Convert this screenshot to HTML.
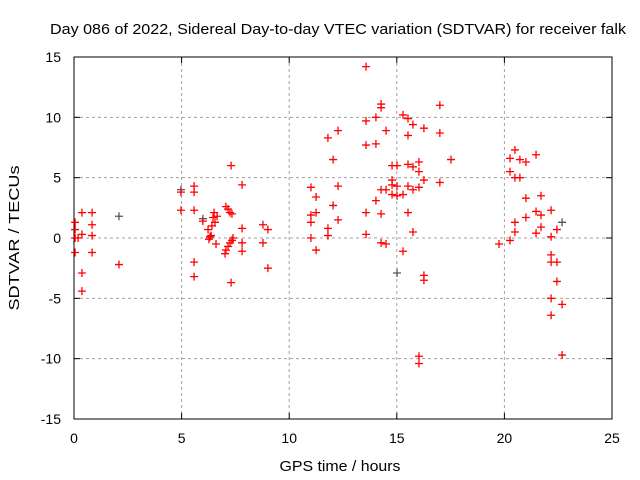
<!DOCTYPE html>
<html><head><meta charset="utf-8"><style>
body{margin:0;background:#fff}
svg{display:block;font-family:"Liberation Sans",sans-serif}
</style></head><body>
<svg id="chart" width="640" height="480" viewBox="0 0 640 480">
<text x="338" y="34" font-size="15" text-anchor="middle" textLength="576" lengthAdjust="spacingAndGlyphs">Day 086 of 2022, Sidereal Day-to-day VTEC variation (SDTVAR) for receiver falk</text>
<text transform="translate(19,238) rotate(-90)" font-size="15" text-anchor="middle" textLength="145" lengthAdjust="spacingAndGlyphs">SDTVAR / TECUs</text>
<text x="340" y="471" font-size="15" text-anchor="middle" textLength="121" lengthAdjust="spacingAndGlyphs">GPS time / hours</text>
<g id="grid"></g><g id="axes"></g><g id="pts"></g>
</svg>
<script>
const xTicks=[0,5,10,15,20,25];
const yTicks=[-15,-10,-5,0,5,10,15];
const redH=[0.05,0.05,0.05,0.05,0.37,0.37,0.37,0.37,0.19,0.84,0.84,0.84,0.84,2.09,
4.97,4.97,5.58,5.58,5.58,5.58,5.58,5.99,
6.23,6.32,6.41,6.46,6.51,6.55,6.37,6.27,6.6,6.65,
7.06,7.16,7.25,7.34,7.02,7.06,7.16,7.25,7.34,7.39,7.3,7.3,
7.81,7.81,7.81,7.81,8.78,8.78,9.01,9.01,
11.01,11.01,11.01,11.01,11.25,11.25,11.25,11.8,11.8,11.8,12.04,12.04,12.27,12.27,12.27,
13.57,13.57,13.57,13.57,13.57,14.03,14.03,14.03,14.27,14.27,14.27,14.27,14.27,14.5,14.5,14.5,
14.78,14.78,14.78,14.78,15.01,15.01,15.01,15.29,15.29,15.29,
15.52,15.52,15.52,15.52,15.52,15.75,15.75,15.75,15.75,16.03,16.03,16.03,16.03,16.03,
16.26,16.26,16.26,16.26,17.0,17.0,17.0,17.52,
19.75,20.26,20.26,20.26,20.49,20.49,20.49,20.49,20.72,20.72,21.0,21.0,21.0,21.47,21.47,21.47,
21.7,21.7,21.7,22.17,22.17,22.17,22.17,22.17,22.17,22.44,22.44,22.44,22.68,22.68];
const redV=[0.7,1.3,0,-1.2,2.1,0.3,-2.9,-4.4,0,2.1,1.1,0.2,-1.2,-2.2,
3.8,2.3,4.3,3.8,-2.0,-3.2,2.3,1.4,
0.7,0.1,1.0,1.7,2.1,1.3,0.2,-0.1,-0.5,1.8,
2.6,2.4,2.1,2.0,-1.3,-1.0,-0.7,-0.4,-0.2,0,-3.7,6.0,
4.4,0.8,-0.4,-1.1,1.1,-0.4,0.7,-2.5,
4.2,1.9,1.3,0,3.4,2.1,-1.0,8.3,0.8,0.2,6.5,2.7,8.9,4.3,1.5,
14.2,9.7,7.7,2.1,0.3,10,7.8,3.1,11.1,10.8,4.0,2.0,-0.4,8.9,4.0,-0.5,
4.8,4.4,3.6,6.0,6.0,4.3,3.5,10.2,3.6,-1.1,
9.9,8.5,6.1,4.3,2.1,9.4,5.9,0.5,4.0,6.3,5.5,-9.8,-10.4,4.2,
9.1,4.8,-3.1,-3.5,11.0,8.7,4.6,6.5,
-0.5,6.6,5.5,-0.2,7.3,5.0,1.3,0.5,6.5,5.0,6.3,3.3,1.7,6.9,2.2,0.4,
3.5,1.9,0.9,0.1,-1.4,-2.0,-5.0,-6.4,2.3,0.7,-2.0,-3.6,-5.5,-9.7];
const grayH=[4.97,2.09,5.99,22.68,15.01];
const grayV=[4.0,1.8,1.6,1.3,-2.9];
const X0=74,X1=612,Y0=419,Y1=57;
const sx=h=>X0+(h-0)/25*(X1-X0);
const sy=v=>Y0-(v+15)/30*(Y0-Y1);
const NS="http://www.w3.org/2000/svg";
function mk(t,a,p){const e=document.createElementNS(NS,t);for(const k in a)e.setAttribute(k,a[k]);p.appendChild(e);return e;}
const grid=document.getElementById('grid'),axes=document.getElementById('axes'),pts=document.getElementById('pts');
xTicks.forEach(t=>{
  if(t>0&&t<25){const g=mk('line',{x1:sx(t),x2:sx(t),y1:Y1,y2:Y0,stroke:'#a0a0a0','stroke-dasharray':'3,3'},grid);
  
  }
  const l=mk('text',{x:sx(t),y:443,'font-size':14,'text-anchor':'middle'},axes);l.textContent=t;
  
  
  mk('line',{x1:sx(t),x2:sx(t),y1:Y0,y2:Y0-6,stroke:'#000'},axes);
  mk('line',{x1:sx(t),x2:sx(t),y1:Y1,y2:Y1+6,stroke:'#000'},axes);
});
yTicks.forEach(t=>{
  if(t>-15&&t<15){const g=mk('line',{x1:X0,x2:X1,y1:sy(t),y2:sy(t),stroke:'#a0a0a0','stroke-dasharray':'3,3'},grid);
  
  }
  const l=mk('text',{x:61,y:sy(t)+5,'font-size':14,'text-anchor':'end'},axes);l.textContent=t;
  
  
  mk('line',{x1:X0,x2:X0+6,y1:sy(t),y2:sy(t),stroke:'#000'},axes);
  mk('line',{x1:X1,x2:X1-6,y1:sy(t),y2:sy(t),stroke:'#000'},axes);
});
const fr=mk('rect',{x:X0,y:Y1,width:X1-X0,height:Y0-Y1,fill:'none',stroke:'#000'},axes);


function cross(h,v,c,name){
  const g=mk('path',{d:`M${sx(h)-4},${sy(v)}h8M${sx(h)},${sy(v)-4}v8`,stroke:c,'stroke-width':1.3,fill:'none'},pts);
  
  
}
grayH.forEach((h,i)=>cross(h,grayV[i],'#555','gray-point'));
redH.forEach((h,i)=>cross(h,redV[i],'#ff0000','sdtvar-point'));
</script>
</body></html>
